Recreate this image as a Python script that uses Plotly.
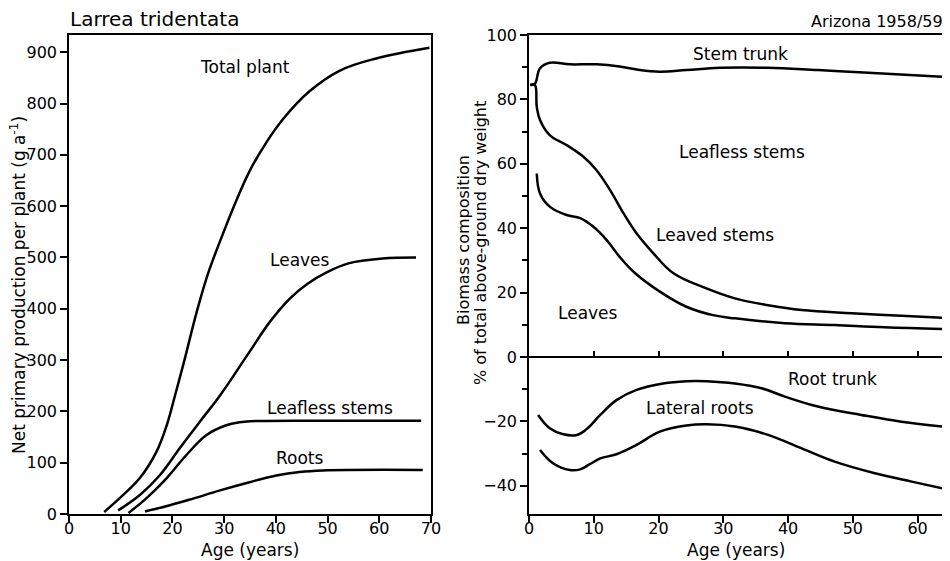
import plotly.graph_objects as go

# ---- Left panel: Net primary production per plant (g a-1) vs age ----
total_x = [6.8, 9.8, 13.7, 16.9, 18.9, 20.5, 22.4, 24.7, 26.9, 29.8, 32.4, 34.9, 38.2, 41.4, 46.5, 52.3, 59.4, 69.7]
total_y = [4, 31, 70, 121, 173, 231, 303, 394, 469, 547, 612, 668, 725, 770, 824, 864, 888, 909]

leaves_x = [9.5, 13.7, 17.6, 21.4, 25.3, 29.2, 34.9, 38.8, 42.7, 46.0, 50.0, 54.2, 60.6, 67.1]
leaves_y = [7, 37, 76, 128, 180, 231, 316, 374, 420, 448, 472, 489, 498, 500]

leafless_x = [11.5, 15.0, 18.9, 22.7, 26.6, 30.4, 33.0, 35.0, 50.0, 68.1]
leafless_y = [2, 31, 70, 115, 154, 173, 179, 181, 182, 182]

roots_x = [14.7, 19.5, 24.0, 29.2, 34.9, 40.1, 44.6, 49.1, 68.4]
roots_y = [5, 17, 30, 46, 62, 75, 82, 85, 86]

# ---- Right panel: Biomass composition (% of total above-ground dry weight) ----
stem_trunk_x = [0.2, 0.9, 1.7, 3.2, 6.3, 10.4, 14.0, 17.1, 20.2, 24.3, 29.5, 36.9, 44.6, 52.4, 63.9]
stem_trunk_y = [84.5, 84.8, 89.7, 91.4, 90.9, 90.9, 90.2, 89.1, 88.6, 89.1, 89.8, 89.8, 89.1, 88.3, 87.0]

leafless_pct_x = [0.2, 0.9, 1.2, 1.7, 3.2, 5.8, 8.4, 10.4, 12.5, 14.6, 16.6, 19.2, 22.3, 27.4, 31.8, 36.9, 42.1, 49.8, 57.5, 63.9]
leafless_pct_y = [84.5, 84.5, 77.7, 73.6, 68.9, 65.8, 62.2, 58.1, 51.9, 44.6, 38.4, 32.2, 26.0, 21.3, 18.2, 16.1, 14.6, 13.6, 12.8, 12.2]

leaved_pct_x = [1.2, 1.7, 3.2, 5.8, 7.9, 9.9, 12.0, 14.0, 16.4, 20.2, 24.3, 28.4, 31.8, 39.5, 47.2, 54.9, 63.9]
leaved_pct_y = [57.0, 50.8, 46.7, 44.1, 43.1, 40.5, 36.3, 31.1, 26.0, 20.3, 15.6, 13.0, 12.0, 10.5, 9.9, 9.2, 8.7]

root_trunk_x = [1.4, 3.2, 5.3, 7.4, 8.9, 11.0, 13.5, 16.6, 20.7, 24.3, 27.4, 31.8, 35.9, 39.5, 44.6, 51.3, 57.5, 63.9]
root_trunk_y = [-18.0, -22.1, -24.0, -24.2, -22.4, -18.0, -13.4, -10.2, -8.2, -7.5, -7.5, -8.2, -9.7, -12.3, -15.4, -18.0, -20.1, -21.6]

lateral_x = [1.7, 3.7, 6.3, 7.9, 9.4, 11.0, 13.5, 16.6, 20.2, 24.3, 27.4, 31.8, 36.9, 42.1, 47.2, 53.4, 59.1, 63.9]
lateral_y = [-28.9, -33.0, -35.1, -34.9, -33.3, -31.5, -30.2, -27.3, -23.2, -21.3, -20.9, -21.6, -24.2, -28.4, -32.5, -36.1, -38.7, -40.8]

left_ticks = [0, 100, 200, 300, 400, 500, 600, 700, 800, 900]
left_xticks = [0, 10, 20, 30, 40, 50, 60, 70]
right_yticks = [-40, -20, 0, 20, 40, 60, 80, 100]
right_xticks = [0, 10, 20, 30, 40, 50, 60]
zero_line_ticks = [10, 20, 30, 40, 50, 60]

FONT = "DejaVu Sans"
LW = 2.5
line = dict(color="black", width=LW, shape="spline", smoothing=1.1)

# page body adds an 8px offset; layout positions below are given in screen pixels
OFF = 8
W, H = 950, 561
T_M = 35 - OFF          # plot top at screen y=35
B_M = H - (514 - OFF)   # plot bottom at screen y=514
PH = H - T_M - B_M


def sx(px):
    return (px - OFF) / W


def sy(py):
    return (514 - py) / PH


fig = go.Figure()
for xs, ys in [(total_x, total_y), (leaves_x, leaves_y), (leafless_x, leafless_y), (roots_x, roots_y)]:
    fig.add_trace(go.Scatter(x=xs, y=ys, mode="lines", line=line, xaxis="x", yaxis="y",
                             showlegend=False, hoverinfo="skip"))
for xs, ys in [(stem_trunk_x, stem_trunk_y), (leafless_pct_x, leafless_pct_y), (leaved_pct_x, leaved_pct_y),
               (root_trunk_x, root_trunk_y), (lateral_x, lateral_y)]:
    fig.add_trace(go.Scatter(x=xs, y=ys, mode="lines", line=line, xaxis="x2", yaxis="y2",
                             showlegend=False, hoverinfo="skip"))
# carrier trace for the zero-line axis with upward ticks
fig.add_trace(go.Scatter(x=[0], y=[0], mode="none", xaxis="x3", yaxis="y2",
                         showlegend=False, hoverinfo="skip"))

axis_common = dict(showline=True, linecolor="black", linewidth=1.5, mirror=True,
                   ticks="outside", tickcolor="black", tickwidth=1.5, ticklen=7,
                   showgrid=False, zeroline=False, automargin=False,
                   tickfont=dict(family=FONT, size=16, color="black"))

Y2MIN, Y2MAX = -48.76, 100
y0_frac = (0 - Y2MIN) / (Y2MAX - Y2MIN)

fig.update_layout(
    template="none",
    width=W, height=H,
    margin=dict(l=0, r=0, t=T_M, b=B_M, pad=0),
    paper_bgcolor="white", plot_bgcolor="white",
    font=dict(family=FONT, size=16, color="black"),
    showlegend=False,
    xaxis=dict(domain=[sx(69), sx(431)], range=[0, 70], tickvals=left_xticks, anchor="y",
               ticklabelstandoff=-8, **axis_common),
    yaxis=dict(domain=[0, 1], range=[0, 933.7], tickvals=left_ticks, anchor="x", **axis_common),
    xaxis2=dict(domain=[sx(529), sx(943.5)], range=[0, 64], tickvals=right_xticks, anchor="y2",
                ticklabelstandoff=-8, **axis_common),
    yaxis2=dict(domain=[0, 1], range=[Y2MIN, Y2MAX], tickvals=right_yticks, anchor="x2",
                minor=dict(dtick=10, tick0=0, ticks="outside", ticklen=5, tickcolor="black", tickwidth=1.5),
                **axis_common),
    xaxis3=dict(overlaying="x2", anchor="free", position=y0_frac, side="top", range=[0, 64],
                tickvals=zero_line_ticks, ticks="outside", ticklen=5, tickwidth=1.5,
                tickcolor="black", showticklabels=False, showline=True, linecolor="black",
                linewidth=1.5, showgrid=False, zeroline=False, automargin=False),
)


def ann(text, x, y, xref, yref, size=17, xanchor="center", yanchor="middle", **kw):
    fig.add_annotation(text=text, x=x, y=y, xref=xref, yref=yref, showarrow=False,
                       xanchor=xanchor, yanchor=yanchor,
                       font=dict(family=FONT, size=size, color="black"), **kw)


# titles / corner texts (screen-pixel placement)
ann("Larrea tridentata", sx(68), sy(19), "paper", "paper", size=20, xanchor="left")
ann("Arizona 1958/59", sx(945), sy(21), "paper", "paper", size=16, xanchor="right")

# axis titles
ann("Age (years)", sx(250), sy(550), "paper", "paper", size=17)
ann("Age (years)", sx(736), sy(550), "paper", "paper", size=17)
ann("Net primary production per plant (g a<sup>-1</sup>)", sx(18), sy(285), "paper", "paper", textangle=-90)
ann("Biomass composition", sx(463), sy(240), "paper", "paper", size=16, textangle=-90)
ann("% of total above-ground dry weight", sx(480), sy(243), "paper", "paper", size=16, textangle=-90)

# curve labels, left
ann("Total plant", 34, 872, "x", "y")
ann("Leaves", 44.6, 495, "x", "y")
ann("Leafless stems", 50.4, 207, "x", "y")
ann("Roots", 44.6, 109, "x", "y")

# curve labels, right
ann("Stem trunk", 32.6, 94, "x2", "y2")
ann("Leafless stems", 32.9, 63.7, "x2", "y2")
ann("Leaved stems", 28.7, 37.9, "x2", "y2")
ann("Leaves", 9.1, 13.7, "x2", "y2")
ann("Root trunk", 46.8, -6.8, "x2", "y2")
ann("Lateral roots", 26.4, -15.8, "x2", "y2")

fig.write_html("out.html")
